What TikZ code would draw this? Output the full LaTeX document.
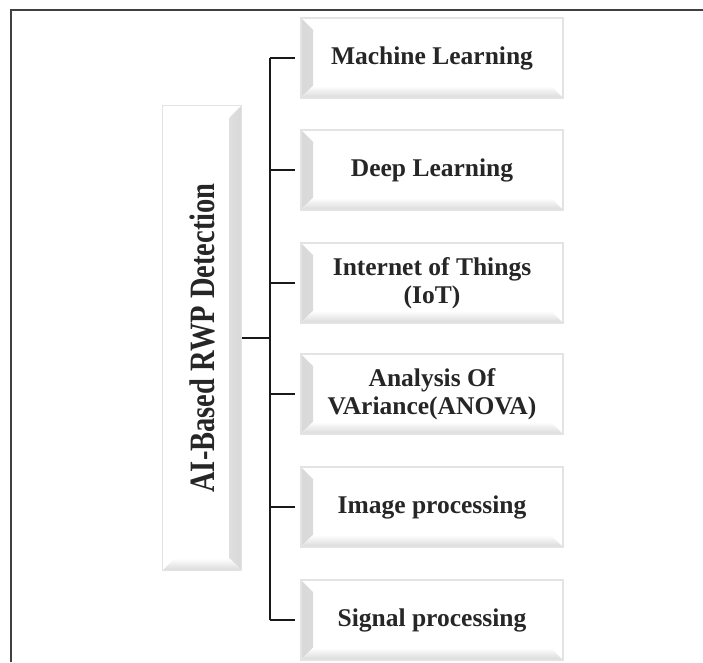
\documentclass[tikz,border=0pt]{standalone}
\usepackage{fontspec}
\setmainfont{Liberation Serif}
\usetikzlibrary{positioning, calc}

\begin{document}
\begin{tikzpicture}[x=1pt, y=-1pt,
            bevel/.style={draw=gray!22, line width=1.5pt, fill=white, align=center,
              text=black!85, font=\bfseries\fontsize{25.5}{28}\selectfont},
            item/.style={bevel, minimum width=262pt, minimum height=80pt, inner sep=2pt,
              path picture={
                \fill[left color=gray!30, right color=white]
                  (path picture bounding box.south west) -- (path picture bounding box.north west)
                  -- ([xshift=12pt,yshift=-12pt]path picture bounding box.north west)
                  -- ([xshift=12pt,yshift=12pt]path picture bounding box.south west) -- cycle;
                \fill[bottom color=gray!30, top color=white]
                  (path picture bounding box.south west) -- (path picture bounding box.south east)
                  -- ([xshift=-12pt,yshift=12pt]path picture bounding box.south east)
                  -- ([xshift=12pt,yshift=12pt]path picture bounding box.south west) -- cycle;
              }},
            rootbox/.style={bevel, minimum width=79pt, minimum height=465pt, inner sep=0pt,
              path picture={
                \fill[right color=gray!30, left color=white]
                  (path picture bounding box.south east) -- (path picture bounding box.north east)
                  -- ([xshift=-12pt,yshift=-12pt]path picture bounding box.north east)
                  -- ([xshift=-12pt,yshift=12pt]path picture bounding box.south east) -- cycle;
                \fill[bottom color=gray!30, top color=white]
                  (path picture bounding box.south east) -- (path picture bounding box.south west)
                  -- ([xshift=12pt,yshift=12pt]path picture bounding box.south west)
                  -- ([xshift=-12pt,yshift=12pt]path picture bounding box.south east) -- cycle;
              }},
            branch/.style={draw, line width=1.6pt, black!90}]
  \useasboundingbox (0,0) rectangle (703,662);
  % frame of the figure
  \draw[line width=1.6pt, black!75] (11,662) -- (11,10) -- (703,10);
  % root
  \node[rootbox] (root) at (202,338)
    {\rotatebox{90}{\scalebox{1}[1.25]{\fontsize{28.5}{30}\selectfont AI-Based RWP Detection}}};
  % methods
  \node[item] (ml) at (432,58) {Machine Learning};
  \node[item] (dl) at (432,170) {Deep Learning};
  \node[item] (iot) at (432,283) {Internet of Things\\(IoT)};
  \node[item] (anova) at (432,394) {Analysis Of\\VAriance(ANOVA)};
  \node[item] (img) at (432,507) {Image processing};
  \node[item] (sig) at (432,620) {Signal processing};
  % tree
  \coordinate (trunk) at (270,338);
  \draw[branch] (ml.west -| trunk) -- (sig.west -| trunk);
  \draw[branch] (root.east) -- (root.east -| trunk);
  \foreach \n in {ml, dl, iot, anova, img, sig}
    \draw[branch, shorten >=5pt] (\n.west -| trunk) -- (\n.west);
\end{tikzpicture}
\end{document}
